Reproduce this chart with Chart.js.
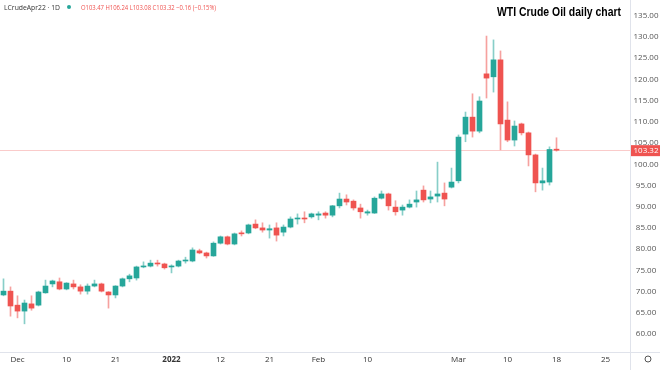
<!DOCTYPE html>
<html>
<head>
<meta charset="utf-8">
<script src="https://cdn.jsdelivr.net/npm/chart.js@4.4.0/dist/chart.umd.min.js"></script>
<style>
  html, body { margin: 0; padding: 0; background: #fff; }
  #wrap { width: 660px; height: 370px; position: relative; }
</style>
</head>
<body>
<div id="wrap"><canvas id="chart" width="660" height="370"></canvas></div>
<script>
// header texts
const symbol = 'LCrudeApr22';
const interval = '1D';
const title = 'WTI Crude Oil daily chart';

// x axis: one slot per trading day, extra empty slots on the right
const slots = 90;
const tickIdx = [2, 9, 16, 24, 31, 38, 45, 52, 65, 72, 79, 86];
const tickText = ['Dec', '10', '21', '2022', '12', '21', 'Feb', '10', 'Mar', '10', '18', '25'];

// price axis
const priceTicks = [60, 65, 70, 75, 80, 85, 90, 95, 100, 105, 110, 115, 120, 125, 130, 135];

// daily candles
const opens = [69.2,70.1,66.8,65.4,67.1,66.8,69.7,71.8,72.3,70.6, 71.8,71.1,70.1,71.3,71.8,69.9,69.2,71.3,73.0,73.2,
  75.8,76.0,76.7,76.5,75.8,76.0,77.2,77.2,79.6,79.1, 78.4,81.4,82.9,81.2,83.8,83.8,85.9,85.0,84.5,85.0,
  84.0,85.2,87.1,87.3,87.6,88.0,88.5,88.0,90.2,91.8, 91.3,89.7,88.5,88.5,92.0,93.0,89.9,89.2,89.9,91.1,
  93.9,91.8,92.5,93.2,94.6,96.1,107.1,111.1,107.8,121.3, 120.6,124.6,110.4,105.7,109.5,107.4,102.2,95.6,95.8,103.47];
const highs = [73.0,71.1,69.0,68.0,69.0,70.1,72.7,72.7,73.2,72.1, 72.7,71.6,71.8,72.7,72.0,70.0,71.4,73.2,74.1,76.0,
  77.0,77.4,77.4,76.7,76.3,77.4,78.1,80.3,80.0,79.3, 81.7,83.1,83.1,83.8,84.3,85.9,86.9,86.2,85.7,86.2,
  85.7,87.6,88.3,88.8,88.5,88.8,88.8,90.3,93.2,92.8, 91.6,90.6,89.2,92.3,93.7,93.2,91.4,90.4,91.6,93.7,
  94.9,93.7,100.5,95.6,99.1,106.9,112.3,116.6,115.9,130.2, 129.3,126.7,114.7,110.2,109.7,107.6,102.4,99.1,104.1,106.24];
const lows = [69.0,64.2,63.8,62.4,65.6,66.6,69.6,71.1,70.4,70.4, 70.6,69.4,69.4,71.1,69.9,66.1,68.5,71.1,72.3,72.7,
  75.6,75.8,76.0,75.3,74.4,75.8,76.7,77.0,78.9,77.9, 78.3,81.2,81.0,81.0,83.1,83.6,84.8,84.0,82.6,81.9,
  83.1,85.0,85.9,86.2,87.3,86.9,87.3,87.6,89.7,90.4, 89.2,87.3,88.0,88.4,91.8,89.2,88.0,88.0,89.7,89.9,
  91.1,90.9,91.1,90.2,94.4,95.6,105.3,106.4,107.4,115.6, 117.0,103.4,105.3,104.3,106.9,99.6,93.5,93.9,95.1,103.08];
const closes = [70.1,66.6,65.4,67.3,66.1,69.9,71.3,72.5,70.6,72.0, 71.1,70.1,71.3,71.8,70.1,69.2,71.3,73.0,73.7,75.8,
  76.0,76.7,76.5,75.6,76.0,77.2,77.4,79.8,79.1,78.4, 81.4,82.9,81.2,83.6,83.6,85.7,85.0,84.5,84.8,83.3,
  85.2,87.1,87.3,87.1,88.3,88.3,88.0,90.2,91.8,91.1, 89.7,88.8,88.8,92.0,93.0,90.2,88.8,89.9,90.6,91.6,
  91.6,92.3,93.0,91.8,95.8,106.4,111.1,107.8,114.9,120.3, 124.6,109.5,105.7,109.0,107.4,102.2,95.6,96.1,103.48,103.32];

const upColor = '#26a69a';
const downColor = '#ef5350';
const upWick = 'rgba(38,166,154,0.55)';
const downWick = 'rgba(239,83,80,0.55)';

const labels = Array.from({ length: slots }, (_, i) => String(i));
const isUp = opens.map((o, i) => closes[i] >= o);

const last = closes.length - 1;
const lastClose = closes[last];
const change = lastClose - closes[last - 1];
const changePct = change / closes[last - 1] * 100;
const fmtSigned = v => (v < 0 ? '\u2212' : '+') + Math.abs(v).toFixed(2);

const chromePlugin = {
  id: 'chrome',
  beforeDatasetsDraw(chart) {
    const { ctx, chartArea } = chart;
    const y = Math.round(chart.scales.y.getPixelForValue(lastClose)) + 0.5;
    ctx.save();
    ctx.strokeStyle = 'rgba(239,83,80,0.3)';
    ctx.lineWidth = 1;
    ctx.beginPath();
    ctx.moveTo(chartArea.left, y);
    ctx.lineTo(chartArea.right, y);
    ctx.stroke();
    ctx.restore();
  },
  afterDraw(chart) {
    const { ctx, chartArea, width, height } = chart;
    const yScale = chart.scales.y;
    const axisMid = (chartArea.right + width) / 2 + 1;
    ctx.save();
    // pane borders
    ctx.strokeStyle = '#e0e3eb';
    ctx.lineWidth = 1;
    ctx.beginPath();
    ctx.moveTo(chartArea.right + 0.5, 0);
    ctx.lineTo(chartArea.right + 0.5, height);
    ctx.moveTo(0, chartArea.bottom + 0.5);
    ctx.lineTo(width, chartArea.bottom + 0.5);
    ctx.stroke();

    // price axis labels
    ctx.font = '8px "Open Sans", sans-serif';
    ctx.textAlign = 'center';
    ctx.textBaseline = 'middle';
    ctx.fillStyle = '#555';
    priceTicks.forEach(v => {
      ctx.fillText(v.toFixed(2), axisMid, yScale.getPixelForValue(v));
    });

    // last price label
    const py = yScale.getPixelForValue(lastClose);
    ctx.fillStyle = downColor;
    ctx.fillRect(chartArea.right + 1, py - 5, width - chartArea.right - 1, 11);
    ctx.fillStyle = '#fff';
    ctx.fillText(lastClose.toFixed(2), axisMid, py + 0.5);

    // header legend
    ctx.textAlign = 'left';
    ctx.fillStyle = '#333';
    ctx.font = '7px "Open Sans", sans-serif';
    ctx.fillText(symbol + ' \u00b7 ' + interval, 4, 8, 56);
    ctx.fillStyle = upColor;
    ctx.beginPath();
    ctx.arc(69, 7, 2, 0, Math.PI * 2);
    ctx.fill();
    ctx.fillStyle = downColor;
    const ohlc = 'O' + opens[last].toFixed(2) + ' H' + highs[last].toFixed(2) + ' L' + lows[last].toFixed(2) +
      ' C' + lastClose.toFixed(2) + ' ' + fmtSigned(change) + ' (' + fmtSigned(changePct) + '%)';
    ctx.fillText(ohlc, 81, 8, 135);

    // title
    ctx.fillStyle = '#000';
    ctx.font = 'bold 12px "Liberation Sans Narrow", "Liberation Sans", sans-serif';
    ctx.fillText(title, 497, 13, 124);

    // settings icon
    ctx.strokeStyle = '#555';
    ctx.lineWidth = 1;
    ctx.beginPath();
    ctx.arc(648, 359, 3, 0, Math.PI * 2);
    ctx.stroke();
    ctx.restore();
  }
};

new Chart(document.getElementById('chart'), {
  type: 'bar',
  data: {
    labels,
    datasets: [
      {
        label: 'wick',
        data: lows.map((l, i) => [l, highs[i]]),
        backgroundColor: isUp.map(u => (u ? upWick : downWick)),
        barThickness: 1,
        grouped: false,
        order: 2
      },
      {
        label: 'body',
        data: opens.map((o, i) => [o, closes[i]]),
        backgroundColor: isUp.map(u => (u ? upColor : downColor)),
        barThickness: 5,
        minBarLength: 1,
        grouped: false,
        order: 1
      }
    ]
  },
  options: {
    responsive: false,
    animation: false,
    devicePixelRatio: 1,
    layout: { padding: 0 },
    plugins: {
      legend: { display: false },
      tooltip: { enabled: false }
    },
    scales: {
      x: {
        grid: { display: false, drawTicks: false },
        border: { display: false },
        afterFit: s => { s.height = 18; s.paddingLeft = 0; s.paddingRight = 0; },
        ticks: {
          autoSkip: false,
          maxRotation: 0,
          minRotation: 0,
          padding: 3,
          color: '#333',
          font: ctx => ({
            family: '"Open Sans", sans-serif',
            size: 8,
            weight: tickText[tickIdx.indexOf(ctx.index)] === '2022' ? 'bold' : 'normal'
          }),
          callback: (v, i) => {
            const k = tickIdx.indexOf(i);
            return k >= 0 ? tickText[k] : '';
          }
        }
      },
      y: {
        position: 'right',
        min: 55.76,
        max: 138.7,
        grid: { display: false, drawTicks: false },
        border: { display: false },
        afterFit: s => { s.width = 30; s.paddingTop = 0; s.paddingBottom = 0; },
        ticks: { display: false }
      }
    }
  },
  plugins: [chromePlugin]
});
</script>
</body>
</html>
